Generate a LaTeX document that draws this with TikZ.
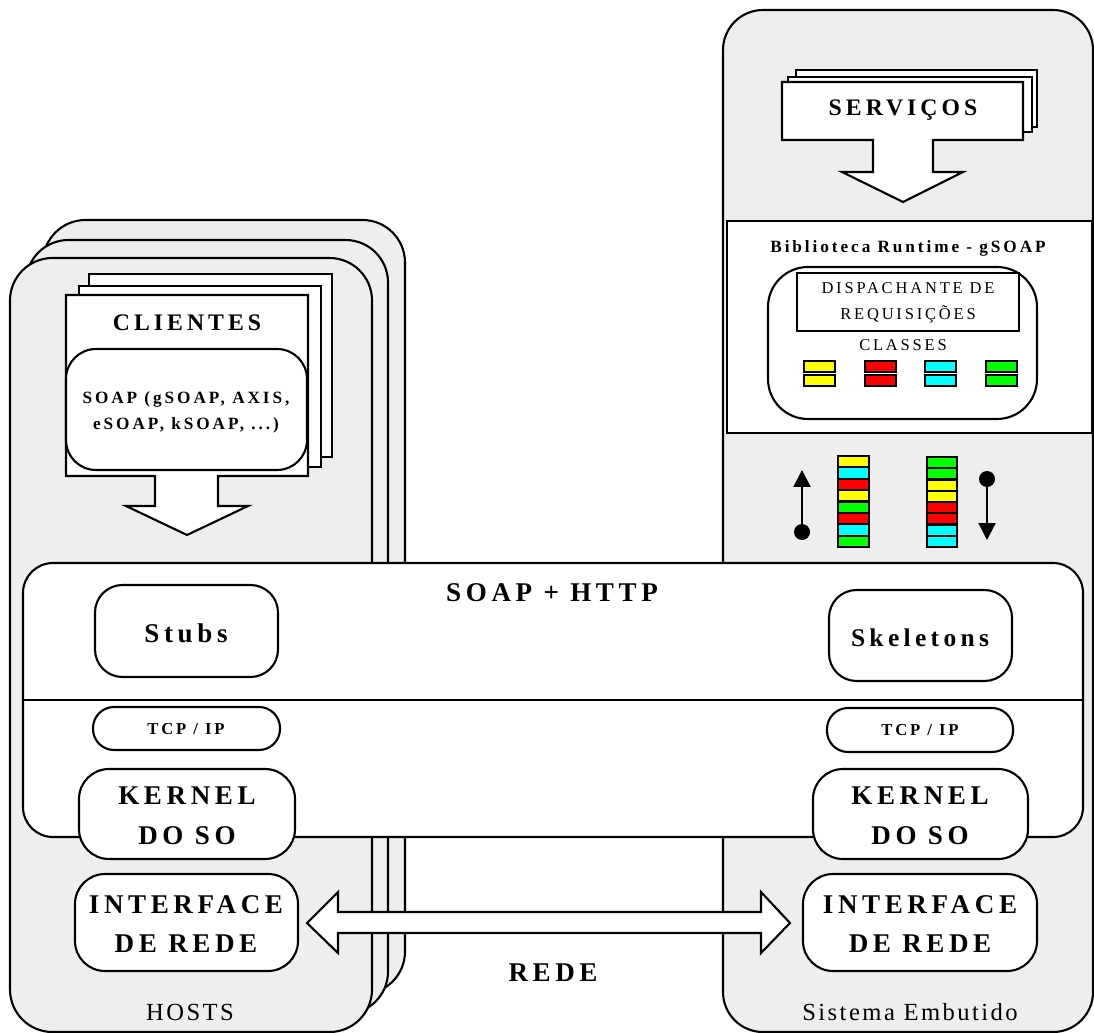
\documentclass[tikz,border=0pt]{standalone}
\usepackage{fontspec}
\setmainfont{Liberation Serif}
\newfontfamily\wide[LetterSpace=17]{Liberation Serif}
\newfontfamily\semiwide[LetterSpace=10]{Liberation Serif}
\usetikzlibrary{arrows.meta}
\definecolor{cardgray}{HTML}{EEEEEE}
\definecolor{qyellow}{HTML}{FFFF00}
\definecolor{qred}{HTML}{FF0000}
\definecolor{qcyan}{HTML}{00FFFF}
\definecolor{qgreen}{HTML}{00FF00}

\begin{document}
\begin{tikzpicture}[x=0.02cm,y=-0.02cm]
\tikzstyle{every node}=[inner sep=0pt, align=center]
\tikzstyle{card}=[draw, line width=1.2pt, fill=cardgray, rounded corners=0.85cm]
\tikzstyle{paper}=[draw, line width=1.2pt, fill=white]
\tikzstyle{rbox}=[draw, line width=1.2pt, fill=white, rounded corners=0.6cm]
\tikzstyle{bigbold}=[font=\wide\bfseries\fontsize{15.4}{22.5}\selectfont]
\tikzstyle{midbold}=[font=\wide\bfseries\fontsize{9.8}{14.7}\selectfont]
\tikzstyle{plain}=[font=\wide\fontsize{9.4}{14.7}\selectfont]
\tikzstyle{caption}=[font=\semiwide\fontsize{14}{17}\selectfont]

	\useasboundingbox (0,0) rectangle (1094,1033);

	% hosts, three cards
	\foreach \dx/\dy in {33/-38,16/-18,0/0} {
		\draw[card] ({10+\dx},{258+\dy}) rectangle ({372+\dx},{1032+\dy});
	}
	% embedded system
	\draw[card, rounded corners=0.8cm] (723,10) rectangle (1093,1032);

	% clients
	\draw[paper] (89,274) rectangle (332,457);
	\draw[paper] (79,286) rectangle (321,467);
	\draw[paper] (66,295) -- (308,295) -- (308,476) -- (218,476) -- (218,506) -- (248,506)
		-- (187,535) -- (126,506) -- (155,506) -- (155,476) -- (66,476) -- cycle;
	\node[bigbold, font=\wide\bfseries\fontsize{13.5}{16}\selectfont] (clientes) at (187,323) {CLIENTES};
	\draw[rbox] (66,349) rectangle (307,470);
	\node[midbold] (soaplibs) at (186,412) {SOAP (gSOAP, AXIS,\\eSOAP, kSOAP, ...)};

	% services
	\draw[paper] (796,70) rectangle (1037,127);
	\draw[paper] (788,77) rectangle (1032,132);
	\draw[paper] (782,82) -- (1023,82) -- (1023,140) -- (933,140) -- (933,172) -- (963,172)
		-- (903,202) -- (842,172) -- (873,172) -- (873,140) -- (782,140) -- cycle;
	\node[bigbold, font=\wide\bfseries\fontsize{13.5}{16}\selectfont] (servicos) at (903,110) {SERVIÇOS};

	% runtime library
	\draw[paper] (727,221) rectangle (1092,433);
	\node[midbold] (runtime) at (908,248) {Biblioteca Runtime - gSOAP};
	\draw[rbox, rounded corners=0.8cm] (768,267) rectangle (1037,419);
	\draw[paper] (797,273) rectangle (1019,331);
	\node[plain] (dispatch) at (908,303) {DISPACHANTE DE\\REQUISIÇÕES};
	\node[plain] (classes) at (903,345) {CLASSES};
	\foreach \xa/\c in {804/qyellow,865/qred,925/qcyan,986/qgreen} {
		\filldraw[fill=\c, line width=1.2pt] (\xa,361) rectangle ++(31,11);
		\filldraw[fill=\c, line width=1.2pt] (\xa,375) rectangle ++(31,11);
	}

	% message queues
	\foreach \c [count=\i from 0] in {qyellow,qcyan,qred,qyellow,qgreen,qred,qcyan,qgreen} {
		\filldraw[fill=\c, line width=1.2pt] (838,{456+\i*11.375}) rectangle ++(31,11.375);
	}
	\foreach \c [count=\i from 0] in {qgreen,qgreen,qyellow,qyellow,qred,qred,qcyan,qcyan} {
		\filldraw[fill=\c, line width=1.2pt] (927,{457+\i*11.25}) rectangle ++(30,11.25);
	}
	\fill (802,532) circle (8);
	\draw[line width=1.2pt, -{Triangle[length=0.34cm,width=0.34cm]}] (802,532) -- (802,470);
	\fill (987,479) circle (8);
	\draw[line width=1.2pt, -{Triangle[length=0.34cm,width=0.34cm]}] (987,479) -- (987,540);

	% soap + http layer
	\draw[rbox] (23,563) rectangle (1083,837);
	\draw[line width=1.2pt] (23,700) -- (1083,700);
	\node[bigbold] (soaphttp) at (552,593) {SOAP + HTTP};

	\draw[rbox, rounded corners=0.55cm] (95,585) rectangle (278,677);
	\node[bigbold] (stubs) at (186,633) {Stubs};
	\draw[rbox, rounded corners=0.55cm] (829,590) rectangle (1012,681);
	\node[bigbold, font=\wide\bfseries\fontsize{14.5}{22.5}\selectfont] (skeletons) at (920,638) {Skeletons};

	\draw[rbox, rounded corners=0.42cm] (93,707) rectangle (280,750);
	\node[midbold, font=\wide\bfseries\fontsize{9.5}{11}\selectfont] (tcpl) at (186,729) {TCP / IP};
	\draw[rbox, rounded corners=0.42cm] (827,708) rectangle (1013,752);
	\node[midbold, font=\wide\bfseries\fontsize{9.5}{11}\selectfont] (tcpr) at (920,730) {TCP / IP};

	\draw[rbox] (79,769) rectangle (295,859);
	\node[bigbold] (kernell) at (187,816) {KERNEL\\DO SO};
	\draw[rbox] (813,769) rectangle (1028,859);
	\node[bigbold] (kernelr) at (920,816) {KERNEL\\DO SO};

	\draw[rbox] (75,874) rectangle (298,971);
	\node[bigbold] (ifl) at (186,924) {INTERFACE\\DE REDE};
	\draw[rbox] (803,874) rectangle (1037,971);
	\node[bigbold] (ifr) at (920,924) {INTERFACE\\DE REDE};

	% network
	\draw[paper] (307,923) -- (338,892) -- (338,912) -- (761,912) -- (761,892) -- (790,923)
		-- (761,953) -- (761,933) -- (338,933) -- (338,953) -- cycle;
	\node[bigbold] (rede) at (553,973) {REDE};

	\node[caption] (hosts) at (190,1012) {HOSTS};
	\node[caption] (embutido) at (910,1012) {Sistema Embutido};
\end{tikzpicture}
\end{document}
